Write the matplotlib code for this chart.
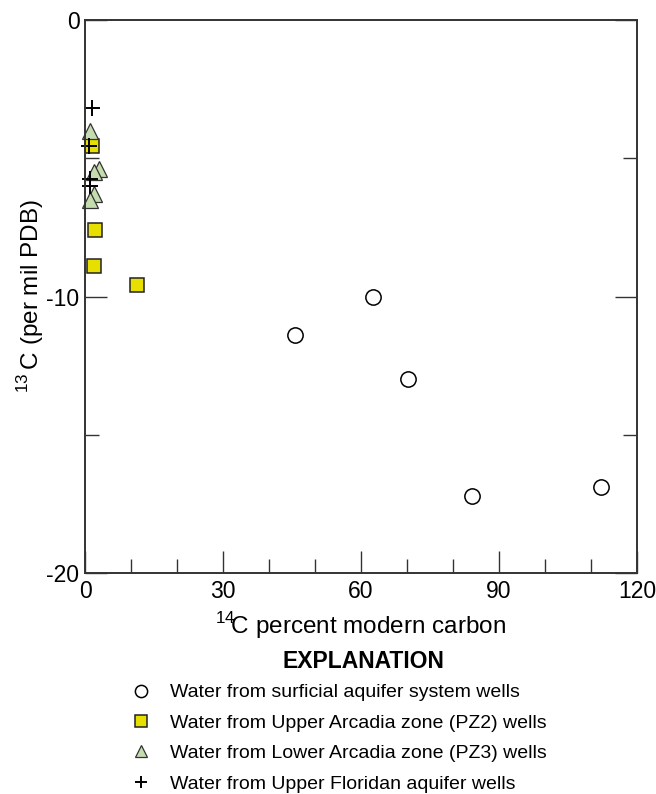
import matplotlib
matplotlib.use("Agg")
from matplotlib import pyplot as plt
from matplotlib.ticker import MultipleLocator

plt.rcParams['font.family'] = ['Liberation Sans', 'DejaVu Sans']
plt.rcParams['axes.unicode_minus'] = False
plt.rcParams['mathtext.fontset'] = 'custom'
plt.rcParams['mathtext.rm'] = 'Liberation Sans'

# 14C (percent modern carbon) and 13C (per mil PDB) by well group
surficial_pmc = [45.7, 62.6, 70.2, 84.1, 112.2]
surficial_d13c = [-11.4, -10.0, -13.0, -17.2, -16.9]

pz2_pmc = [1.5, 2.1, 1.9, 11.3]
pz2_d13c = [-4.55, -7.6, -8.9, -9.6]

pz3_pmc = [1.1, 3.1, 2.0, 2.0, 1.1]
pz3_d13c = [-4.0, -5.4, -5.5, -6.3, -6.5]

ufa_pmc = [1.6, 0.9, 1.1, 1.1]
ufa_d13c = [-3.2, -4.55, -5.75, -6.0]

labels = ["Water from surficial aquifer system wells",
          "Water from Upper Arcadia zone (PZ2) wells",
          "Water from Lower Arcadia zone (PZ3) wells",
          "Water from Upper Floridan aquifer wells"]

fig = plt.figure(figsize=(6.56, 7.94), dpi=100)
ax = fig.add_axes([85 / 656, 1 - 573 / 794, 552 / 656, 553 / 794])

h1, = ax.plot(surficial_pmc, surficial_d13c, 'o', ms=11, mfc='white', mec='black', mew=1.1, ls='none', clip_on=False)
h2, = ax.plot(pz2_pmc, pz2_d13c, 's', ms=10.5, mfc='#e6df00', mec='#222222', mew=1.1, ls='none', clip_on=False)
h3, = ax.plot(pz3_pmc, pz3_d13c, '^', ms=11, mfc='#c4dcae', mec='#333333', mew=0.9, ls='none', clip_on=False)
h4, = ax.plot(ufa_pmc, ufa_d13c, '+', ms=11, mec='black', mew=1.4, ls='none', clip_on=False)

ax.set_xlim(0, 120)
ax.set_ylim(-20, 0)
ax.xaxis.set_major_locator(MultipleLocator(30))
ax.xaxis.set_minor_locator(MultipleLocator(10))
ax.yaxis.set_major_locator(MultipleLocator(10))
ax.yaxis.set_minor_locator(MultipleLocator(5))
ax.tick_params(which='both', direction='in', top=False, right=True, width=1, color='#333333',
               labelsize=16.5)
ax.tick_params(which='major', length=16)
ax.tick_params(which='minor', length=10)
ax.tick_params(axis='x', which='both', pad=5)
ax.tick_params(axis='y', which='both', pad=4)
for s in ax.spines.values():
    s.set_linewidth(1.4)
    s.set_color('#333333')

ax.set_xlabel(r"$^{14}\!$C percent modern carbon", fontsize=17.5, labelpad=5)
ax.set_ylabel(r"$^{13}\,$C (per mil PDB)", fontsize=17.5, labelpad=0)

fig.text(363 / 656, 1 - 662 / 794, "EXPLANATION", ha='center', va='center', fontsize=16.5, fontweight='bold')

fig.legend([h1, h2, h3, h4], labels, loc='upper left', bbox_to_anchor=(117 / 656, 1 - 674 / 794),
           frameon=False, fontsize=14, handletextpad=0.75, labelspacing=0.66, borderpad=0,
           markerscale=0.8, handlelength=1.5)

fig.savefig("out.png", dpi=100)
